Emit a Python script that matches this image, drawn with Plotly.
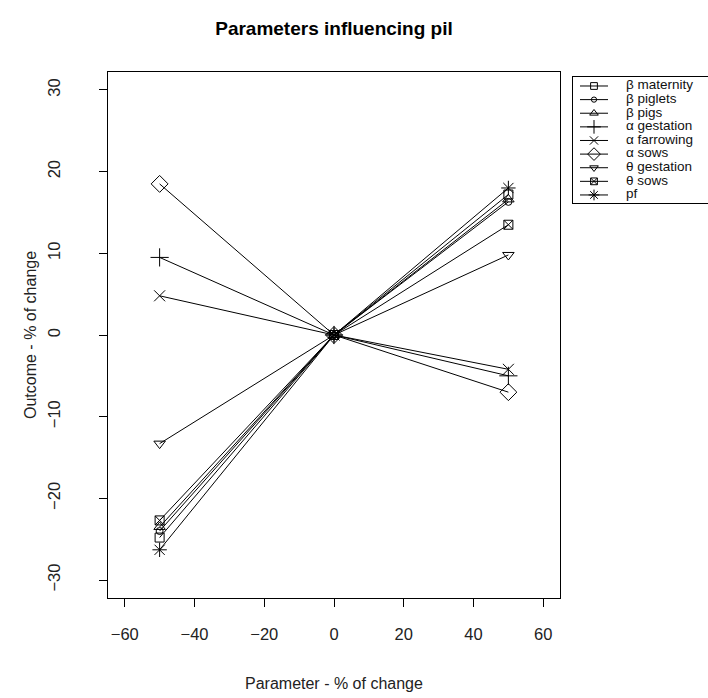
import plotly.graph_objects as go

# Percentage change applied to each parameter, and the resulting outcome change
param_change = [-50, 0, 50]

series_names = ["β maternity", "β piglets", "β pigs", "α gestation", "α farrowing",
                "α sows", "θ gestation", "θ sows", "pf"]

beta_maternity = [-24.8, 0, 17.2]
beta_piglets = [-24.0, 0, 16.3]
beta_pigs = [-23.5, 0, 16.6]
alpha_gestation = [9.5, 0, -5.0]
alpha_farrowing = [4.8, 0, -4.2]
alpha_sows = [18.5, 0, -7.0]
theta_gestation = [-13.3, 0, 9.8]
theta_sows = [-22.7, 0, 13.5]
pf = [-26.3, 0, 18.0]

series_values = [beta_maternity, beta_piglets, beta_pigs, alpha_gestation, alpha_farrowing,
                 alpha_sows, theta_gestation, theta_sows, pf]

x_ticks = [-60, -40, -20, 0, 20, 40, 60]
y_ticks = [-30, -20, -10, 0, 10, 20, 30]

# marker styling per series
symbols = ["square-open", "circle-open", "triangle-up-open", "cross-thin-open", "x-thin-open",
           "diamond-open", "triangle-down-open", "square-x-open", "asterisk-open"]
sizes = [9, 7, 10, 13, 11, 13, 10, 9, 12]

FONT = "Liberation Sans, Arial, sans-serif"
W, H = 708, 698
ML, MR, MT, MB = 108, 0, 72, 100
PW = W - ML - MR
PH = H - MT - MB

fig = go.Figure()

for name, vals, sym, sz in zip(series_names, series_values, symbols, sizes):
    fig.add_trace(go.Scatter(
        x=param_change, y=vals, name=name, mode="lines+markers",
        line=dict(color="black", width=1),
        marker=dict(symbol=sym, size=sz, color="black", line=dict(color="black", width=1)),
        showlegend=False, xaxis="x", yaxis="y",
    ))

# hand-built legend panel on its own axes
for i, (name, sym, sz) in enumerate(zip(series_names, symbols, sizes)):
    fig.add_trace(go.Scatter(
        x=[7, 35], y=[i, i], mode="lines", line=dict(color="black", width=1),
        showlegend=False, hoverinfo="skip", xaxis="x2", yaxis="y2",
    ))
    fig.add_trace(go.Scatter(
        x=[21], y=[i], mode="markers",
        marker=dict(symbol=sym, size=sz * 0.75, color="black", line=dict(color="black", width=1)),
        showlegend=False, hoverinfo="skip", xaxis="x2", yaxis="y2",
    ))
    fig.add_trace(go.Scatter(
        x=[53], y=[i], mode="text", text=[name], textposition="middle right",
        textfont=dict(family=FONT, size=13.5, color="#111"), cliponaxis=False,
        showlegend=False, hoverinfo="skip", xaxis="x2", yaxis="y2",
    ))

axis_common = dict(
    showgrid=False, zeroline=False, showline=True, mirror=True,
    linecolor="black", linewidth=1, ticks="outside", ticklen=8,
    tickcolor="black", tickfont=dict(family=FONT, size=16.5, color="#222"),
)

legend_top, legend_bottom = 77, 203

fig.update_layout(
    width=W, height=H,
    margin=dict(l=ML, r=MR, t=MT, b=MB),
    paper_bgcolor="white", plot_bgcolor="white",
    font=dict(family=FONT, color="black"),
    xaxis=dict(domain=[0, 452 / PW], range=[-64.8, 64.8], tickvals=x_ticks,
               ticklabelstandoff=13, anchor="y", **axis_common),
    yaxis=dict(domain=[0, 1], range=[-32.2, 32.2], tickvals=y_ticks, tickangle=-90,
               ticklabelstandoff=32, anchor="x", **axis_common),
    xaxis2=dict(domain=[(573 - ML) / PW, 1], range=[0, 135], showgrid=False, zeroline=False,
                showline=True, mirror=True, linecolor="black", linewidth=1,
                showticklabels=False, ticks="", anchor="y2", fixedrange=True),
    yaxis2=dict(domain=[(MT + PH - legend_bottom) / PH, (MT + PH - legend_top) / PH],
                range=[8.59, -0.66], showgrid=False, zeroline=False,
                showline=True, mirror=False, linecolor="black", linewidth=1,
                showticklabels=False, ticks="", anchor="x2", fixedrange=True),
    title=dict(text="<b>Parameters influencing pil</b>", x=334 / W, xref="container",
               y=1 - 28 / H, yref="container", xanchor="center", yanchor="middle",
               font=dict(family=FONT, size=19, color="black")),
    annotations=[
        dict(text="Parameter - % of change", xref="paper", yref="paper",
             x=(334 - ML) / PW, y=-(683 - (MT + PH)) / PH, xanchor="center", yanchor="middle",
             showarrow=False, font=dict(family=FONT, size=16, color="#222")),
        dict(text="Outcome - % of change", xref="paper", yref="paper",
             x=-(ML - 30) / PW, y=0.5, xanchor="center", yanchor="middle", textangle=-90,
             showarrow=False, font=dict(family=FONT, size=16, color="#222")),
    ],
)

fig.write_html("out.html")
